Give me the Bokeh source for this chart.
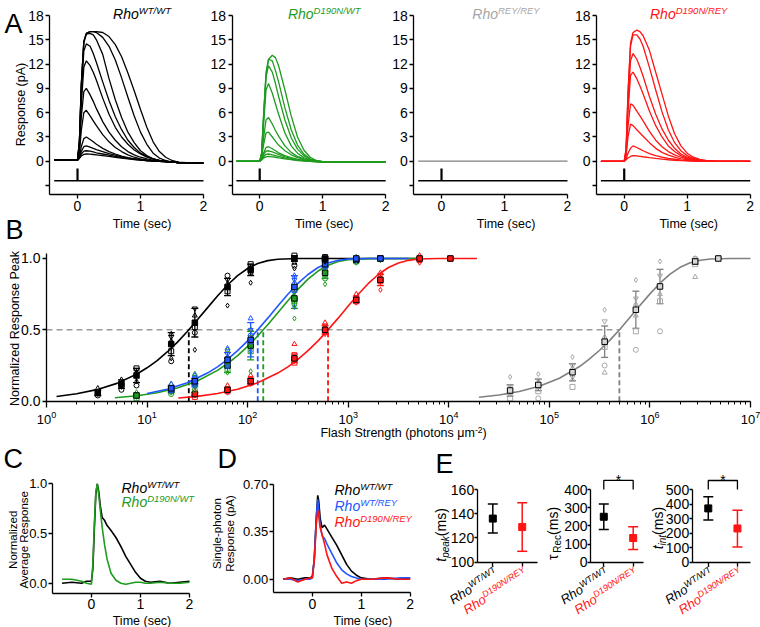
import math
from bokeh.plotting import figure
from bokeh.layouts import row, column
from bokeh.models import (Label, FixedTicker, PrintfTickFormatter, LogTickFormatter,
                          Whisker, TeeHead, ColumnDataSource)
from bokeh.embed import file_html
from bokeh.resources import INLINE

FONT = "Liberation Sans"
C_BLACK = "#000000"
C_GREEN = "#1f9b1f"
C_BLUE = "#2255ff"
C_RED = "#ff1414"
C_GRAY = "#808080"
C_LGRAY = "#a6a6a6"

# ---------------- Panel A data (response, pA) ----------------
a_time = [-0.37, -0.1, 0.0, 0.03, 0.06, 0.1, 0.14, 0.2, 0.25, 0.3, 0.4, 0.5, 0.6, 0.7,
          0.8, 0.9, 1.0, 1.1, 1.2, 1.3, 1.4, 1.5, 1.6, 1.8, 2.0]
a_wt = [
    [0.15, 0.15, 0.15, 2.5, 9.5, 14.8, 15.8, 16.0, 16.0, 16.0, 15.9, 15.4, 14.4, 12.9, 10.9, 8.7, 6.4, 4.2, 2.4, 1.2, 0.5, 0.1, -0.1, -0.2, -0.25],
    [0.15, 0.15, 0.15, 2.5, 9.5, 14.8, 15.8, 16.0, 16.0, 15.9, 15.3, 14.2, 12.5, 10.3, 7.9, 5.6, 3.6, 2.1, 1.0, 0.4, 0.1, -0.1, -0.15, -0.2, -0.25],
    [0.15, 0.15, 0.15, 2.4, 9.2, 14.6, 15.7, 15.8, 15.6, 15.0, 13.2, 10.2, 7.6, 5.4, 3.6, 2.3, 1.3, 0.7, 0.3, 0.1, -0.05, -0.1, -0.15, -0.2, -0.25],
    [0.15, 0.15, 0.15, 2.2, 8.5, 13.6, 14.5, 14.2, 13.3, 12.2, 9.8, 7.5, 5.5, 3.9, 2.6, 1.7, 1.0, 0.6, 0.3, 0.1, 0.0, -0.1, -0.15, -0.2, -0.25],
    [0.15, 0.15, 0.15, 1.9, 7.0, 11.6, 12.4, 11.8, 11.0, 10.0, 7.8, 5.8, 4.2, 3.0, 2.1, 1.4, 0.9, 0.5, 0.3, 0.1, 0.0, -0.1, -0.15, -0.2, -0.25],
    [0.15, 0.15, 0.15, 1.5, 5.5, 8.6, 9.0, 8.2, 7.4, 6.5, 4.9, 3.6, 2.6, 1.8, 1.2, 0.8, 0.5, 0.3, 0.15, 0.05, 0.0, -0.1, -0.15, -0.2, -0.25],
    [0.15, 0.15, 0.15, 1.1, 3.8, 6.0, 6.3, 5.6, 5.0, 4.4, 3.3, 2.4, 1.7, 1.2, 0.8, 0.5, 0.3, 0.15, 0.05, 0.0, -0.05, -0.1, -0.15, -0.2, -0.25],
    [0.15, 0.15, 0.15, 0.6, 1.8, 2.8, 3.0, 2.7, 2.4, 2.1, 1.6, 1.2, 0.9, 0.65, 0.45, 0.3, 0.2, 0.1, 0.05, 0.0, -0.05, -0.1, -0.15, -0.2, -0.25],
    [0.15, 0.15, 0.15, 0.5, 1.2, 1.8, 1.9, 1.75, 1.6, 1.45, 1.2, 0.95, 0.75, 0.55, 0.4, 0.3, 0.2, 0.1, 0.05, 0.0, -0.05, -0.1, -0.15, -0.2, -0.25],
    [0.15, 0.15, 0.15, 0.4, 0.9, 1.25, 1.3, 1.25, 1.15, 1.05, 0.9, 0.75, 0.6, 0.45, 0.35, 0.25, 0.15, 0.1, 0.05, 0.0, -0.05, -0.1, -0.15, -0.2, -0.25],
    [0.15, 0.15, 0.15, 0.35, 0.65, 0.85, 0.9, 0.88, 0.84, 0.8, 0.7, 0.6, 0.5, 0.4, 0.3, 0.2, 0.15, 0.1, 0.05, 0.0, -0.05, -0.1, -0.15, -0.2, -0.25],
]
a_d190n_wt = [
    [0, 0, 0, 1.0, 5.5, 10.5, 12.6, 13.1, 12.8, 11.8, 8.8, 5.6, 3.0, 1.4, 0.5, 0.1, -0.05, -0.1, -0.1, -0.1, -0.1, -0.1, -0.1, -0.1, -0.1],
    [0, 0, 0, 1.0, 5.4, 11.0, 12.6, 12.4, 11.2, 9.8, 6.6, 3.9, 2.0, 0.9, 0.3, 0.05, -0.05, -0.1, -0.1, -0.1, -0.1, -0.1, -0.1, -0.1, -0.1],
    [0, 0, 0, 0.9, 5.0, 10.4, 11.8, 11.0, 9.6, 8.0, 5.1, 2.9, 1.5, 0.7, 0.25, 0.05, -0.05, -0.1, -0.1, -0.1, -0.1, -0.1, -0.1, -0.1, -0.1],
    [0, 0, 0, 0.8, 4.3, 8.8, 9.6, 8.4, 7.1, 5.8, 3.5, 1.9, 1.0, 0.45, 0.15, 0.0, -0.05, -0.1, -0.1, -0.1, -0.1, -0.1, -0.1, -0.1, -0.1],
    [0, 0, 0, 0.6, 2.8, 5.1, 5.4, 4.6, 3.8, 3.1, 1.9, 1.1, 0.6, 0.3, 0.1, 0.0, -0.05, -0.1, -0.1, -0.1, -0.1, -0.1, -0.1, -0.1, -0.1],
    [0, 0, 0, 0.5, 2.0, 3.5, 3.6, 3.0, 2.5, 2.0, 1.3, 0.8, 0.45, 0.2, 0.05, 0.0, -0.05, -0.1, -0.1, -0.1, -0.1, -0.1, -0.1, -0.1, -0.1],
    [0, 0, 0, 0.3, 1.0, 1.7, 1.8, 1.55, 1.3, 1.05, 0.7, 0.45, 0.25, 0.1, 0.0, -0.05, -0.1, -0.1, -0.1, -0.1, -0.1, -0.1, -0.1, -0.1, -0.1],
    [0, 0, 0, 0.25, 0.8, 1.25, 1.3, 1.15, 1.0, 0.85, 0.55, 0.35, 0.2, 0.1, 0.0, -0.05, -0.1, -0.1, -0.1, -0.1, -0.1, -0.1, -0.1, -0.1, -0.1],
    [0, 0, 0, 0.2, 0.55, 0.85, 0.9, 0.8, 0.7, 0.6, 0.4, 0.25, 0.15, 0.05, 0.0, -0.05, -0.1, -0.1, -0.1, -0.1, -0.1, -0.1, -0.1, -0.1, -0.1],
    [0, 0, 0, 0.15, 0.4, 0.55, 0.6, 0.55, 0.5, 0.42, 0.3, 0.2, 0.1, 0.05, 0.0, -0.05, -0.1, -0.1, -0.1, -0.1, -0.1, -0.1, -0.1, -0.1, -0.1],
]
a_rey = [
    [0.03, 0.02, 0.03, 0.03, 0.02, 0.03, 0.02, 0.03, 0.02, 0.03, 0.02, 0.03, 0.02, 0.03, 0.02, 0.03, 0.02, 0.03, 0.02, 0.03, 0.02, 0.03, 0.02, 0.03, 0.02],
]
a_d190n_rey = [
    [0, 0, 0, 1.5, 8.5, 14.6, 15.9, 16.2, 16.0, 15.5, 13.7, 11.0, 8.3, 5.6, 3.4, 1.9, 1.0, 0.5, 0.25, 0.1, 0.05, 0.0, 0.0, 0.0, 0.0],
    [0, 0, 0, 1.5, 8.3, 14.2, 15.6, 15.6, 15.1, 14.2, 11.6, 8.8, 6.1, 3.9, 2.3, 1.3, 0.7, 0.35, 0.15, 0.05, 0.0, 0.0, 0.0, 0.0, 0.0],
    [0, 0, 0, 1.3, 7.0, 12.4, 13.3, 12.6, 11.6, 10.5, 8.0, 5.8, 4.0, 2.6, 1.6, 0.9, 0.5, 0.25, 0.1, 0.05, 0.0, 0.0, 0.0, 0.0, 0.0],
    [0, 0, 0, 1.1, 6.0, 10.6, 11.0, 10.2, 9.3, 8.3, 6.2, 4.4, 3.0, 1.9, 1.2, 0.7, 0.4, 0.2, 0.1, 0.05, 0.0, 0.0, 0.0, 0.0, 0.0],
    [0, 0, 0, 0.9, 4.3, 7.1, 6.9, 6.2, 5.6, 5.0, 3.7, 2.6, 1.8, 1.2, 0.8, 0.5, 0.3, 0.15, 0.05, 0.0, 0.0, 0.0, 0.0, 0.0, 0.0],
    [0, 0, 0, 0.7, 3.0, 4.6, 4.4, 3.9, 3.5, 3.1, 2.3, 1.6, 1.1, 0.75, 0.5, 0.3, 0.2, 0.1, 0.05, 0.0, 0.0, 0.0, 0.0, 0.0, 0.0],
    [0, 0, 0, 0.3, 1.0, 1.6, 1.9, 1.7, 1.5, 1.3, 0.95, 0.7, 0.5, 0.35, 0.25, 0.15, 0.1, 0.05, 0.0, 0.0, 0.0, 0.0, 0.0, 0.0, 0.0],
    [0, 0, 0, 0.2, 0.4, 0.6, 0.7, 0.68, 0.62, 0.56, 0.45, 0.35, 0.26, 0.19, 0.13, 0.08, 0.05, 0.02, 0.0, 0.0, 0.0, 0.0, 0.0, 0.0, 0.0],
]
stim_time = 0.0
stim_level = -2.4
stim_top = -0.9
a_yticks = [0, 3, 6, 9, 12, 15, 18]
a_yticks_unlabeled = [-3]
a_xticks = [0, 1, 2]

# ---------------- Panel B data (normalized peak vs log10 flash) ----------------
fit_wt_logF = [0.1, 0.3, 0.5, 0.7, 0.9, 1.0, 1.1, 1.2, 1.3, 1.4, 1.5, 1.6, 1.7, 1.8, 1.9, 2.0, 2.1, 2.2, 2.3, 2.5, 3.0, 3.72]
fit_wt = [0.033, 0.052, 0.081, 0.125, 0.191, 0.234, 0.285, 0.345, 0.412, 0.488, 0.570, 0.654, 0.737, 0.814, 0.880, 0.930, 0.965, 0.985, 0.995, 1.0, 1.0, 1.0]
fit_gr_logF = [0.68, 0.9, 1.1, 1.3, 1.5, 1.7, 1.8, 1.9, 2.0, 2.1, 2.2, 2.3, 2.4, 2.5, 2.6, 2.7, 2.8, 2.9, 3.0, 3.2, 3.7]
fit_gr = [0.024, 0.038, 0.059, 0.092, 0.142, 0.216, 0.264, 0.320, 0.384, 0.457, 0.536, 0.620, 0.704, 0.784, 0.855, 0.912, 0.953, 0.979, 0.992, 0.999, 1.0]
fit_bl_logF = [1.0, 1.2, 1.4, 1.6, 1.7, 1.8, 1.9, 2.0, 2.1, 2.2, 2.3, 2.4, 2.5, 2.6, 2.7, 2.8, 2.9, 3.0, 3.2, 3.6]
fit_bl = [0.054, 0.084, 0.129, 0.197, 0.241, 0.293, 0.354, 0.423, 0.5, 0.582, 0.667, 0.749, 0.825, 0.888, 0.937, 0.969, 0.987, 0.996, 1.0, 1.0]
fit_rd_logF = [1.31, 1.5, 1.7, 1.9, 2.1, 2.3, 2.4, 2.5, 2.6, 2.7, 2.8, 2.9, 3.0, 3.1, 3.2, 3.3, 3.4, 3.5, 3.6, 3.7, 3.9, 4.28]
fit_rd = [0.022, 0.034, 0.054, 0.084, 0.129, 0.197, 0.241, 0.293, 0.354, 0.423, 0.5, 0.582, 0.667, 0.749, 0.825, 0.888, 0.937, 0.969, 0.987, 0.996, 1.0, 1.0]
fit_gy_logF = [4.3, 4.5, 4.7, 4.9, 5.1, 5.3, 5.4, 5.5, 5.6, 5.7, 5.8, 5.9, 6.0, 6.1, 6.2, 6.3, 6.4, 6.5, 6.6, 6.8, 7.0]
fit_gy = [0.028, 0.043, 0.068, 0.105, 0.161, 0.243, 0.296, 0.357, 0.426, 0.503, 0.586, 0.670, 0.752, 0.827, 0.890, 0.938, 0.970, 0.988, 0.996, 1.0, 1.0]

half_wt, half_bl, half_gr, half_rd, half_gy = 26, 126, 143, 630, 4.97e5
half_level = 0.5

wt_logF = [0.51, 0.745, 0.895, 1.24, 1.475, 1.80, 2.03, 2.465, 2.77]
wt_mean = [0.06, 0.12, 0.18, 0.40, 0.55, 0.80, 0.92, 1.0, 1.0]
wt_sd = [0.02, 0.03, 0.05, 0.08, 0.10, 0.06, 0.04, 0.02, 0.01]
wt_ind = [[0.05, 0.07, 0.09, 0.06, 0.04], [0.10, 0.13, 0.15, 0.11, 0.08], [0.14, 0.22, 0.20, 0.23, 0.11],
          [0.30, 0.45, 0.42, 0.35, 0.28, 0.47], [0.36, 0.65, 0.60, 0.52, 0.48], [0.67, 0.85, 0.82, 0.77, 0.88],
          [0.83, 0.95, 0.90, 0.96, 0.93], [0.93, 1.0, 0.97, 1.02, 0.95], [1.0, 0.98, 1.0, 1.01, 0.99]]
gr_logF = [0.895, 1.24, 1.475, 1.80, 2.03, 2.465, 2.77, 3.08, 3.32]
gr_mean = [0.04, 0.08, 0.13, 0.25, 0.39, 0.72, 0.90, 0.99, 1.0]
gr_sd = [0.01, 0.02, 0.03, 0.05, 0.10, 0.07, 0.04, 0.01, 0.0]
gr_ind = [[0.03, 0.05, 0.06, 0.02, 0.04], [0.06, 0.10, 0.12, 0.07, 0.05], [0.10, 0.16, 0.19, 0.12, 0.08],
          [0.20, 0.30, 0.36, 0.22, 0.28], [0.21, 0.45, 0.50, 0.35, 0.42], [0.58, 0.76, 0.80, 0.70, 0.68],
          [0.82, 0.92, 0.88, 0.95, 0.86], [0.97, 1.0, 1.01, 0.98, 0.99], [1.0, 0.99, 1.0, 1.0, 1.0]]
bl_logF = [1.24, 1.475, 1.80, 2.03, 2.465, 2.77, 3.08, 3.32]
bl_mean = [0.09, 0.14, 0.29, 0.43, 0.80, 0.96, 1.0, 1.0]
bl_sd = [0.02, 0.02, 0.05, 0.12, 0.08, 0.02, 0.0, 0.0]
bl_ind = [[0.07, 0.10, 0.12, 0.08, 0.09], [0.12, 0.16, 0.18, 0.13, 0.11], [0.24, 0.33, 0.37, 0.27, 0.30],
          [0.35, 0.50, 0.58, 0.42, 0.46], [0.66, 0.85, 0.88, 0.78, 0.82], [0.94, 0.97, 0.99, 0.95, 0.96],
          [1.0, 0.99, 1.0, 1.0, 1.0], [1.0, 1.0, 1.0, 1.0, 1.0]]
rd_logF = [1.475, 1.80, 2.03, 2.465, 2.77, 3.08, 3.32, 3.71, 4.016]
rd_mean = [0.05, 0.08, 0.14, 0.30, 0.50, 0.71, 0.85, 1.0, 1.0]
rd_sd = [0.01, 0.01, 0.02, 0.03, 0.03, 0.02, 0.04, 0.01, 0.0]
rd_ind = [[0.04, 0.06, 0.07, 0.03, 0.05], [0.06, 0.09, 0.11, 0.07, 0.08], [0.12, 0.16, 0.18, 0.13, 0.15],
          [0.28, 0.33, 0.40, 0.27, 0.30], [0.47, 0.53, 0.55, 0.49, 0.51], [0.69, 0.73, 0.75, 0.70, 0.72],
          [0.78, 0.88, 0.90, 0.84, 0.86], [0.97, 1.0, 1.02, 0.99, 1.0], [1.0, 1.0, 1.0, 1.0, 1.0]]
gy_logF = [4.61, 4.89, 5.23, 5.55, 5.86, 6.10, 6.45, 6.68]
gy_mean = [0.075, 0.114, 0.203, 0.417, 0.641, 0.804, 0.979, 1.0]
gy_sd = [0.04, 0.04, 0.06, 0.11, 0.13, 0.12, 0.02, 0.0]
gy_ind = [[0.17, 0.10, 0.05, 0.02, 0.08, 0.06], [0.19, 0.15, 0.10, 0.07, 0.02, 0.12],
          [0.31, 0.25, 0.18, 0.10, 0.22, 0.15], [0.64, 0.56, 0.45, 0.38, 0.25, 0.20],
          [0.85, 0.72, 0.60, 0.49, 0.36, 0.68], [0.98, 0.88, 0.75, 0.70, 0.49, 0.82],
          [1.0, 0.98, 0.87, 0.96, 1.0], [1.0, 1.0, 1.0, 1.0]]
b_xticks = [1, 10, 100, 1e3, 1e4, 1e5, 1e6, 1e7]
b_yticks = [0.0, 0.5, 1.0]
MARKERS = ["diamond", "inverted_triangle", "triangle", "square", "circle", "triangle", "inverted_triangle"]

# ---------------- Panel C data ----------------
c_time = [-0.6, -0.4, -0.2, -0.1, 0.0, 0.03, 0.06, 0.09, 0.12, 0.15, 0.18, 0.22, 0.27, 0.32, 0.4,
          0.5, 0.6, 0.7, 0.8, 0.9, 1.0, 1.1, 1.2, 1.4, 1.6, 1.8, 2.0]
c_wt = [0.0, 0.01, 0.0, 0.02, 0.02, 0.15, 0.55, 0.9, 1.0, 0.92, 0.78, 0.66, 0.63, 0.58, 0.53,
        0.46, 0.37, 0.27, 0.19, 0.11, 0.05, 0.02, 0.01, 0.02, 0.0, 0.01, 0.02]
c_d190n_wt = [0.04, 0.04, 0.02, 0.0, -0.01, 0.2, 0.6, 0.92, 1.0, 0.88, 0.74, 0.56, 0.38, 0.24, 0.1,
              0.03, 0.0, -0.01, 0.0, 0.01, 0.01, 0.0, 0.0, 0.01, 0.0, 0.0, 0.01]

# ---------------- Panel D data ----------------
d_time = [-0.6, -0.45, -0.3, -0.15, -0.05, 0.0, 0.04, 0.08, 0.11, 0.13, 0.16, 0.2, 0.25, 0.3, 0.4,
          0.5, 0.6, 0.7, 0.8, 0.9, 1.0, 1.2, 1.5, 1.8, 2.0]
d_wt = [0.0, 0.01, 0.0, 0.01, 0.01, 0.02, 0.15, 0.45, 0.62, 0.58, 0.45, 0.38, 0.40, 0.37, 0.31,
        0.25, 0.18, 0.11, 0.06, 0.03, 0.01, 0.0, 0.01, 0.0, 0.01]
d_wt_rey = [0.0, 0.0, -0.01, 0.0, 0.0, 0.01, 0.15, 0.45, 0.59, 0.52, 0.40, 0.32, 0.30, 0.26, 0.19,
            0.12, 0.07, 0.04, 0.02, 0.01, 0.0, 0.0, 0.0, 0.01, 0.01]
d_d190n_rey = [0.0, 0.01, -0.02, 0.0, 0.01, 0.01, 0.14, 0.40, 0.51, 0.47, 0.38, 0.33, 0.26, 0.18, 0.08,
               0.02, -0.03, -0.02, -0.03, -0.01, 0.0, 0.0, 0.01, 0.0, 0.0]

# ---------------- Panel E data (ms) ----------------
e_pos = [1, 2]
e_colors = [C_BLACK, C_RED]
e_sups = ["WT/WT", "D190N/REY"]
tpeak_mean = [136, 129]
tpeak_lo = [124, 109]
tpeak_hi = [148, 149]
trec_mean = [250, 133]
trec_lo = [180, 70]
trec_hi = [320, 195]
tint_mean = [370, 232]
tint_lo = [290, 105]
tint_hi = [450, 357]
trec_bracket = [400, 450]
tint_bracket = [500, 562]

# ---------------- helpers ----------------
CW = {'R': .722, 'h': .556, 'o': .556, 'W': .944, 'T': .611, '/': .278, 'D': .722, '1': .556, '9': .556,
      '0': .556, 'N': .722, 'E': .667, 'Y': .667, ' ': .278, '(': .333, ')': .333, 'm': .833, 's': .5,
      'p': .556, 'e': .556, 'a': .556, 'k': .5, 'i': .222, 'n': .556, 't': .278, 'c': .5, 'τ': .52,
      'F': .611, 'l': .222, 'S': .667, 'r': .333, 'g': .556, 'μ': .576, '-': .333, '2': .556}
MID = 0.35  # distance (em) from alphabetic baseline to the "middle" baseline


def tw(text, size):
    return sum(CW.get(ch, 0.556) for ch in text) * size


def label(p, x, y, text, ox=0.0, oy=0.0, size=12.5, color="black", style="normal",
          align="left", baseline="alphabetic", angle=0.0):
    if baseline == "alphabetic":
        # place by the alphabetic baseline, drawn with the "middle" baseline
        ox -= MID * size * math.sin(angle)
        oy += MID * size * math.cos(angle)
        baseline = "middle"
    p.add_layout(Label(x=x, y=y, x_offset=ox, y_offset=oy, text=text, text_font=FONT,
                       text_font_size=f"{size}px", text_font_style=style, text_color=color,
                       text_align=align, text_baseline=baseline, angle=angle))


def rich(p, x, y, parts, ox=0.0, oy=0.0, color="black", align="left", angle=0.0):
    total = sum(tw(t, s) for t, s, r, st in parts)
    d = {"left": 0.0, "center": -total / 2.0, "right": -total}[align]
    c, s = math.cos(angle), math.sin(angle)
    for t, size, rise, style in parts:
        label(p, x, y, t, ox + d * c - rise * s, oy + d * s + rise * c, size, color, style,
              "left", "alphabetic", angle)
        d += tw(t, size)


def rho(sup, big=14, small=9.5, rise=4.5):
    return [("Rho", big, 0, "italic"), (sup, small, rise, "italic")]


def make_fig(w, h, box, xlim, ylim, xtype="linear"):
    """Frame fills the canvas; axes are pinned (fixed_location) so that the
    axes box (left, top, right, bottom in px) shows xlim x ylim."""
    bl, bt, br, bb = box
    if xtype == "log":
        lx0, lx1 = math.log10(xlim[0]), math.log10(xlim[1])
    else:
        lx0, lx1 = xlim
    sx = (br - bl) / (lx1 - lx0)
    xs, xe = lx0 - bl / sx, lx1 + (w - br) / sx
    if xtype == "log":
        xs, xe = 10 ** xs, 10 ** xe
    sy = (bb - bt) / (ylim[1] - ylim[0])
    ys, ye = ylim[0] - (h - bb) / sy, ylim[1] + bt / sy
    p = figure(width=w, height=h, x_range=(xs, xe), y_range=(ys, ye), x_axis_type=xtype,
               output_backend="svg", toolbar_location=None, title=None,
               min_border=0, min_border_left=0, min_border_right=0,
               min_border_top=0, min_border_bottom=0)
    p.outline_line_color = None
    p.xgrid.visible = False
    p.ygrid.visible = False
    p.background_fill_color = "white"
    p.border_fill_color = "white"
    p.xaxis.fixed_location = ylim[0]
    p.yaxis.fixed_location = xlim[0]
    p.xaxis.bounds = (xlim[0], xlim[1])
    p.yaxis.bounds = (ylim[0], ylim[1])
    for ax in (p.xaxis[0], p.yaxis[0]):
        ax.axis_line_width = 1.3
        ax.major_tick_line_width = 1.3
        ax.major_tick_in = 0
        ax.major_tick_out = 4
        ax.minor_tick_line_color = None
        ax.major_label_text_font = FONT
        ax.major_label_text_font_size = "14px"
        ax.major_label_text_color = "black"
        ax.major_label_standoff = 2
    return p


# ---------------- Row A ----------------
A_SPECS = [
    (208, 49.3, a_wt, C_BLACK, "WT/WT", C_BLACK),
    (182, 23.5, a_d190n_wt, C_GREEN, "D190N/WT", C_GREEN),
    (182, 23.3, a_rey, C_GRAY, "REY/REY", C_LGRAY),
    (188, 24.0, a_d190n_rey, C_RED, "D190N/REY", C_RED),
]
A_XMIN, A_YMIN, A_YMAX = -0.44, -4.1, 18
a_figs = []
for i, (w, left, traces, col, sup, tcol) in enumerate(A_SPECS):
    p = make_fig(w, 245, (left, 15, left + 153.7, 194), (A_XMIN, a_time[-1]), (A_YMIN, A_YMAX))
    p.yaxis.ticker = FixedTicker(ticks=a_yticks, minor_ticks=a_yticks_unlabeled)
    p.yaxis.minor_tick_line_color = "black"
    p.yaxis.minor_tick_line_width = 1.3
    p.yaxis.minor_tick_out = 4
    p.yaxis.minor_tick_in = 0
    p.xaxis.ticker = FixedTicker(ticks=a_xticks)
    for tr in traces:
        p.line(a_time, tr, line_color=col, line_width=1.3)
    p.line([a_time[0], a_time[-1]], [stim_level, stim_level], line_color="black", line_width=1.3)
    p.line([stim_time, stim_time], [stim_level, stim_top], line_color="black", line_width=2.2)
    rich(p, 1.0, A_YMAX, rho(sup), ox=1.5, oy=-3.3, color=tcol, align="center")
    label(p, 1.0, A_YMIN, "Time (sec)", ox=1.5, oy=-29.5, size=12.5, align="center", baseline="middle")
    if i == 0:
        label(p, A_XMIN, A_YMAX, "A", ox=-45.3, oy=-18, size=27)
        label(p, A_XMIN, A_YMAX, "Response (pA)", ox=-29.3, oy=-89, size=12.5, align="center",
              baseline="middle", angle=math.pi / 2)
        label(p, A_XMIN, A_YMAX, "B", ox=-44.3, oy=-224, size=27)
    a_figs.append(p)

# ---------------- Panel B ----------------
B_YMAX = 1.035
b = make_fig(760, 198, (46, 8, 750, 155.7), (b_xticks[0], b_xticks[-1]), (0, B_YMAX), xtype="log")
b.xaxis.ticker = FixedTicker(ticks=b_xticks,
                             minor_ticks=[k * 10 ** d for d in range(7) for k in range(2, 10)])
b.xaxis.formatter = LogTickFormatter()
b.xaxis.major_tick_out = 6
b.xaxis.major_label_standoff = 4
b.xaxis.major_label_text_font_size = "13px"
b.xaxis.minor_tick_line_color = "black"
b.xaxis.minor_tick_out = 3
b.xaxis.minor_tick_in = 0
b.xaxis.minor_tick_line_width = 1
b.yaxis.ticker = FixedTicker(ticks=b_yticks)
b.yaxis.formatter = PrintfTickFormatter(format="%.1f")

b.line([b_xticks[0], half_gy], [half_level, half_level], line_color="#9a9a9a", line_width=1.5,
       line_dash="6 4")
for hv, col in [(half_wt, C_BLACK), (half_bl, C_BLUE), (half_gr, C_GREEN), (half_rd, C_RED),
                (half_gy, C_GRAY)]:
    b.line([hv, hv], [0, half_level], line_color=col, line_width=1.8, line_dash="5 3")


def exp10(vals):
    return [10 ** v for v in vals]


for xs_, ys_, col in [(fit_wt_logF, fit_wt, C_BLACK), (fit_gr_logF, fit_gr, C_GREEN),
                      (fit_bl_logF, fit_bl, C_BLUE), (fit_rd_logF, fit_rd, C_RED),
                      (fit_gy_logF, fit_gy, C_GRAY)]:
    b.line(exp10(xs_), ys_, line_color=col, line_width=1.6)


def genotype_points(p, logF, mean, sd, ind, col, ind_col, fill):
    xs, ys, ms = [], [], []
    for L, vals in zip(logF, ind):
        for k, v in enumerate(vals):
            xs.append(10 ** L)
            ys.append(v)
            ms.append(MARKERS[k % len(MARKERS)])
    p.scatter("x", "y", marker="mk", source=ColumnDataSource(dict(x=xs, y=ys, mk=ms)),
              size=5, fill_color=None, line_color=ind_col, line_width=1.0)
    fx = exp10(logF)
    src = ColumnDataSource(dict(x=fx, y=mean, lo=[m - s for m, s in zip(mean, sd)],
                                hi=[m + s for m, s in zip(mean, sd)]))
    p.add_layout(Whisker(source=src, base="x", upper="hi", lower="lo", dimension="height",
                         line_color=col, line_width=1.3,
                         upper_head=TeeHead(size=7, line_color=col, line_width=1.3),
                         lower_head=TeeHead(size=7, line_color=col, line_width=1.3)))
    p.scatter("x", "y", source=src, marker="square", size=5.5, fill_color=fill,
              line_color="black", line_width=1.0)


genotype_points(b, gy_logF, gy_mean, gy_sd, gy_ind, C_GRAY, "#a8a8a8", "#d8d8d8")
genotype_points(b, rd_logF, rd_mean, rd_sd, rd_ind, C_RED, C_RED, C_RED)
genotype_points(b, gr_logF, gr_mean, gr_sd, gr_ind, C_GREEN, C_GREEN, C_GREEN)
genotype_points(b, bl_logF, bl_mean, bl_sd, bl_ind, C_BLUE, C_BLUE, C_BLUE)
genotype_points(b, wt_logF, wt_mean, wt_sd, wt_ind, C_BLACK, C_BLACK, C_BLACK)

label(b, 1, B_YMAX, "Normalized Response Peak", ox=-32, oy=-75, size=12.5, align="center",
      baseline="middle", angle=math.pi / 2)
rich(b, 1, B_YMAX, [("Flash Strength (photons μm", 12.5, 0, "normal"), ("-2", 8.5, 5, "normal"),
                    (")", 12.5, 0, "normal")], ox=357, oy=-184, align="center")

# ---------------- Panel C ----------------
C_XMIN, C_YMIN, C_YMAX = -0.8, -0.1, 1.0
c = make_fig(203, 184, (51.7, 40.3, 189, 149.7), (C_XMIN, 2.0), (C_YMIN, C_YMAX))
c.xaxis.ticker = FixedTicker(ticks=[0, 1, 2])
c.yaxis.ticker = FixedTicker(ticks=[0.0, 0.5, 1.0])
c.yaxis.formatter = PrintfTickFormatter(format="%.1f")
c.yaxis.major_label_text_font_size = "13px"
c.yaxis.major_label_standoff = 1
c.line(c_time, c_wt, line_color=C_BLACK, line_width=1.6)
c.line(c_time, c_d190n_wt, line_color=C_GREEN, line_width=1.6)
label(c, C_XMIN, C_YMAX, "C", ox=-48.7, oy=15.3, size=27)
label(c, C_XMIN, C_YMAX, "Normalized", ox=-39.7, oy=-56, size=11.5, align="center",
      baseline="middle", angle=math.pi / 2)
label(c, C_XMIN, C_YMAX, "Average Response", ox=-28.2, oy=-56, size=11.5, align="center",
      baseline="middle", angle=math.pi / 2)
rich(c, C_XMIN, C_YMAX, rho("WT/WT"), ox=69.3, oy=-8.7, color=C_BLACK)
rich(c, C_XMIN, C_YMAX, rho("D190N/WT"), ox=69.3, oy=-22.7, color=C_GREEN)
label(c, 1.0, C_YMIN, "Time (sec)", ox=1.5, oy=-27.3, size=12.5, align="center", baseline="middle")

# ---------------- Panel D ----------------
D_XMIN, D_YMIN, D_YMAX = -0.8, -0.1, 0.7
d = make_fig(217, 184, (69.7, 41, 206.7, 149.3), (D_XMIN, 2.0), (D_YMIN, D_YMAX))
d.xaxis.ticker = FixedTicker(ticks=[0, 1, 2])
d.yaxis.ticker = FixedTicker(ticks=[0.0, 0.35, 0.7])
d.yaxis.formatter = PrintfTickFormatter(format="%.2f")
d.yaxis.major_label_text_font_size = "13px"
d.yaxis.major_label_standoff = 1
d.line(d_time, d_wt, line_color=C_BLACK, line_width=1.6)
d.line(d_time, d_wt_rey, line_color=C_BLUE, line_width=1.6)
d.line(d_time, d_d190n_rey, line_color=C_RED, line_width=1.6)
label(d, D_XMIN, D_YMAX, "D", ox=-55.7, oy=16, size=27)
label(d, D_XMIN, D_YMAX, "Single-photon", ox=-56, oy=-49, size=11.5, align="center",
      baseline="middle", angle=math.pi / 2)
label(d, D_XMIN, D_YMAX, "Response (pA)", ox=-43.4, oy=-49, size=11.5, align="center",
      baseline="middle", angle=math.pi / 2)
rich(d, D_XMIN, D_YMAX, rho("WT/WT"), ox=61.3, oy=-10, color=C_BLACK)
rich(d, D_XMIN, D_YMAX, rho("WT/REY"), ox=61.3, oy=-26, color=C_BLUE)
rich(d, D_XMIN, D_YMAX, rho("D190N/REY"), ox=61.3, oy=-42, color=C_RED)
label(d, 1.0, D_YMIN, "Time (sec)", ox=1.5, oy=-27.7, size=12.5, align="center", baseline="middle")

# ---------------- Panel E ----------------
E_ANGLE = 0.576


def panel_e(w, box, xlim, ylim, ticks, mean, lo, hi, ylab_parts, ylab_ox, ylab_oy,
            bracket=None, letter=False):
    p = make_fig(w, 184, box, xlim, ylim)
    p.yaxis.ticker = FixedTicker(ticks=ticks)
    p.yaxis.major_tick_out = 3
    p.yaxis.major_label_standoff = 0
    p.xaxis.ticker = FixedTicker(ticks=e_pos)
    p.xaxis.major_label_text_color = None
    for k in range(2):
        src = ColumnDataSource(dict(x=[e_pos[k]], y=[mean[k]], lo=[lo[k]], hi=[hi[k]]))
        p.add_layout(Whisker(source=src, base="x", upper="hi", lower="lo", dimension="height",
                             line_color=e_colors[k], line_width=1.5,
                             upper_head=TeeHead(size=10, line_color=e_colors[k], line_width=1.5),
                             lower_head=TeeHead(size=10, line_color=e_colors[k], line_width=1.5)))
        p.scatter("x", "y", source=src, marker="square", size=7, fill_color=e_colors[k],
                  line_color=e_colors[k])
        rich(p, e_pos[k], ylim[0], rho(e_sups[k], 13, 9, 4.5), ox=6, oy=-13, color=e_colors[k],
             align="right", angle=E_ANGLE)
    if bracket is not None:
        p.line([e_pos[0], e_pos[0], e_pos[1], e_pos[1]], [bracket[0], bracket[1], bracket[1], bracket[0]],
               line_color="black", line_width=1.3)
        label(p, (e_pos[0] + e_pos[1]) / 2, bracket[1], "*", oy=-4, size=14, align="center")
    rich(p, xlim[0], ylim[1], ylab_parts, ox=ylab_ox, oy=ylab_oy, align="center", angle=math.pi / 2)
    if letter:
        label(p, xlim[0], ylim[1], "E", ox=-41.7, oy=16, size=27)
    return p


e1 = panel_e(123, (56.7, 46, 116.7, 118.7), (0.469, 2.51), (100, 160), [100, 120, 140, 160],
             tpeak_mean, tpeak_lo, tpeak_hi,
             [("t", 14, 0, "italic"), ("peak", 10, -3, "italic"), (" (ms)", 14, 0, "normal")],
             -31.2, -43.5, letter=True)
e2 = panel_e(107, (47, 46, 100, 118.7), (0.548, 2.351), (0, 400), [0, 100, 200, 300, 400],
             trec_mean, trec_lo, trec_hi,
             [("τ", 14, 0, "normal"), ("Rec", 10, -3, "normal"), (" (ms)", 14, 0, "normal")],
             -33, -42, bracket=trec_bracket)
e3 = panel_e(110, (41.7, 46, 100, 118.7), (0.448, 2.448), (0, 500), [0, 100, 200, 300, 400, 500],
             tint_mean, tint_lo, tint_hi,
             [("t", 14, 0, "italic"), ("int", 10, -3, "italic"), (" (ms)", 14, 0, "normal")],
             -29.7, -36.7, bracket=tint_bracket)

layout = column(row(*a_figs), b, row(c, d, e1, e2, e3))
open("out.html", "w").write(file_html(layout, INLINE))
